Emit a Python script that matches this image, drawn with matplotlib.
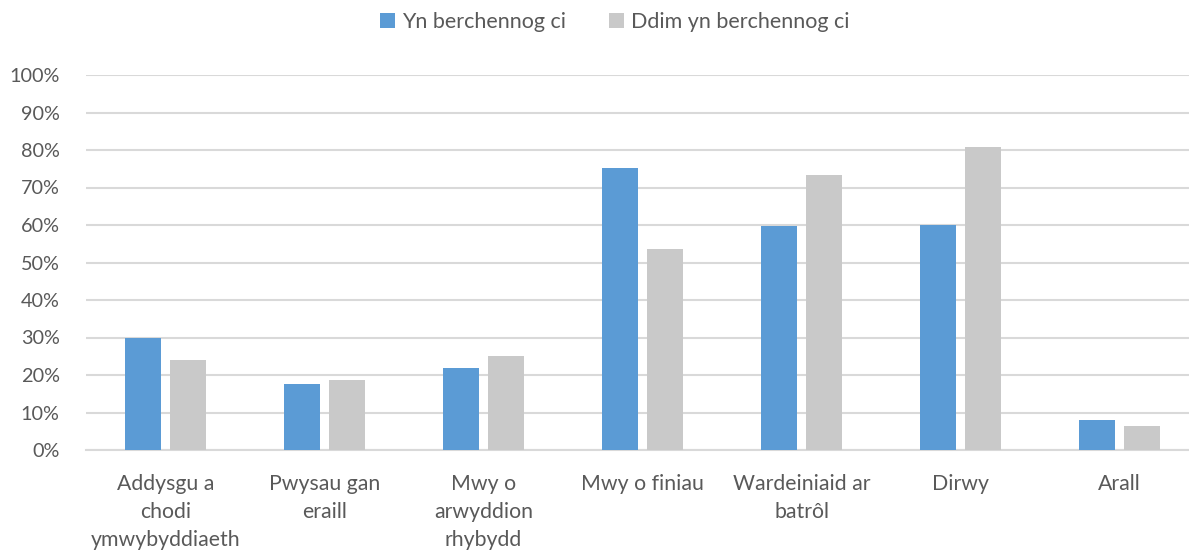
import matplotlib.pyplot as plt
import numpy as np

categories = ['Addysgu a\nchodi\nymwybyddiaeth', 'Pwysau gan\neraill', 'Mwy o\narwyddion\nrhybydd',
              'Mwy o finiau', 'Wardeiniaid ar\nbatrôl', 'Dirwy', 'Arall']
owners = [30.0, 17.5, 22.0, 75.3, 59.8, 60.0, 8.1]
non_owners = [24.0, 18.8, 25.2, 53.6, 73.4, 80.8, 6.4]
series_names = ['Yn berchennog ci', 'Ddim yn berchennog ci']

plt.rcParams['font.family'] = ['Lato', 'DejaVu Sans']
text_col = '#595959'

fig = plt.figure(figsize=(11.89, 5.5), dpi=100)
ax = fig.add_axes([86 / 1189, 1 - 450 / 550, 1 - 86 / 1189, 375 / 550])

x = np.arange(len(categories))
w = 0.226
off = 0.142
ax.bar(x - off, owners, w, color='#5B9BD5', label=series_names[0], zorder=3)
ax.bar(x + off, non_owners, w, color='#C9C9C9', label=series_names[1], zorder=3)

ax.set_ylim(0, 100)
ax.set_xlim(-0.5, -0.5 + 1103 / 159)
ax.set_yticks(np.arange(0, 101, 10))
ax.set_yticklabels([f'{v}%' for v in range(0, 101, 10)])
ax.set_xticks(x)
ax.set_xticklabels(categories, linespacing=1.5)
ax.tick_params(axis='both', length=0, colors=text_col)
ax.tick_params(axis='x', pad=17, labelsize=15.3)
ax.tick_params(axis='y', pad=19, labelsize=14.3)
ax.grid(axis='y', color='#D9D9D9', linewidth=1.5, zorder=0)
for s in ['top', 'right', 'left']:
    ax.spines[s].set_visible(False)
ax.spines['bottom'].set_color('#D9D9D9')
ax.spines['bottom'].set_linewidth(1.5)

fig.legend(loc='center', bbox_to_anchor=(0.517, 1 - 22 / 550), ncol=2, frameon=False,
           fontsize=15.5, labelcolor=text_col, handlelength=0.7, handleheight=0.7,
           handletextpad=0.3, columnspacing=2.0)

fig.savefig('out.png', dpi=100)
